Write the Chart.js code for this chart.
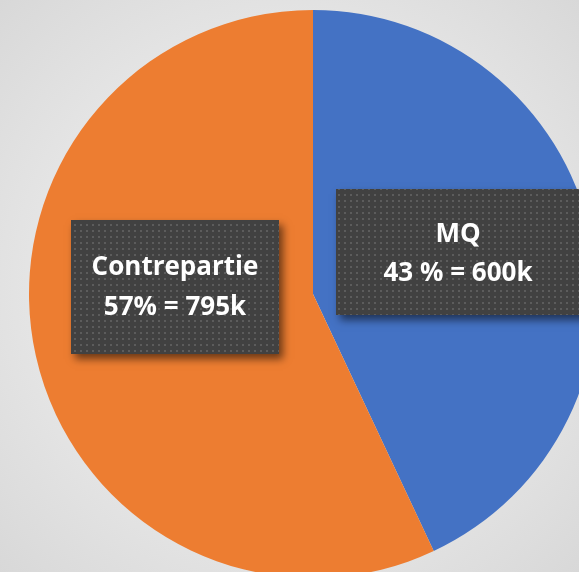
<!DOCTYPE html>
<html>
<head>
<meta charset="utf-8">
<script src="https://cdn.jsdelivr.net/npm/chart.js@4"></script>
<style>
html,body{margin:0;padding:0;width:579px;height:572px;overflow:hidden;}
body{background:radial-gradient(ellipse 75% 75% at 50% 50%, #f4f4f4 0%, #e6e6e6 55%, #d6d6d6 100%);position:relative;}
#wrap{position:absolute;left:0;top:0;width:626px;height:588px;}
</style>
</head>
<body>
<div id="wrap"><canvas id="c" width="626" height="588"></canvas></div>
<script>
const categories = ["MQ", "Contrepartie"];
const values = [600, 795];
const labelLines = [["MQ", "43 % = 600k"], ["Contrepartie", "57% = 795k"]];
const colors = ["#4472C4", "#ED7D31"];

function makePattern(ctx){
  const p = document.createElement('canvas');
  p.width = 6; p.height = 6;
  const g = p.getContext('2d');
  g.fillStyle = '#414141'; g.fillRect(0,0,6,6);
  g.fillStyle = '#5c5c5c'; g.fillRect(2,2,2,2);
  return ctx.createPattern(p, 'repeat');
}

const boxes = [
  {x:336, y:189, w:260, h:126, cx:458, lines:[235, 274]},
  {x:71, y:220, w:208, h:134, cx:175, lines:[268, 308]}
];

const labelPlugin = {
  id: 'labelBoxes',
  afterDatasetsDraw(chart){
    const ctx = chart.ctx;
    const pat = makePattern(ctx);
    boxes.forEach((b, i) => {
      ctx.save();
      ctx.shadowColor = 'rgba(0,0,0,0.55)';
      ctx.shadowBlur = 8;
      ctx.shadowOffsetX = 4;
      ctx.shadowOffsetY = 5;
      ctx.fillStyle = '#414141';
      ctx.fillRect(b.x, b.y, b.w, b.h);
      ctx.restore();
      ctx.save();
      ctx.fillStyle = pat;
      ctx.fillRect(b.x, b.y, b.w, b.h);
      ctx.fillStyle = '#ffffff';
      ctx.font = 'bold 26px "Open Sans", sans-serif';
      ctx.textAlign = 'center';
      ctx.textBaseline = 'middle';
      labelLines[i].forEach((t, j) => ctx.fillText(t, b.cx, b.lines[j]));
      ctx.restore();
    });
  }
};

new Chart(document.getElementById('c'), {
  type: 'pie',
  data: {
    labels: categories,
    datasets: [{
      data: values,
      backgroundColor: colors,
      borderWidth: 0,
      hoverOffset: 0,
      offset: 0
    }]
  },
  options: {
    responsive: false,
    animation: false,
    layout: {padding: {left: 29, right: 29, top: 10, bottom: 10}},
    plugins: {legend: {display: false}, tooltip: {enabled: false}}
  },
  plugins: [labelPlugin]
});
</script>
</body>
</html>
